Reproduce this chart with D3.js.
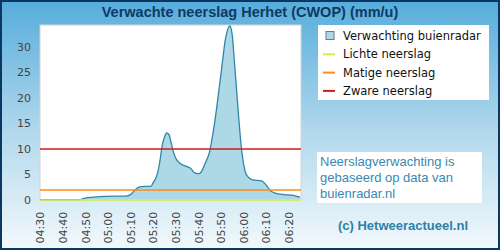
<!DOCTYPE html>
<html><head><meta charset="utf-8">
<script src="https://cdn.jsdelivr.net/npm/d3@7"></script>
<style>html,body{margin:0;padding:0;background:#fff;}svg{display:block;}</style>
</head><body>
<script>
// ---- data ----
const times = ["04:30","04:48","04:49","04:51","04:56","05:03","05:08","05:10","05:12","05:14","05:16","05:19","05:20","05:22","05:23","05:24","05:25","05:26","05:27","05:28","05:29","05:30","05:32","05:35","05:37","05:38","05:40","05:41","05:43","05:45","05:47","05:50","05:52","05:54","05:55","05:56","05:58","05:59","06:01","06:02","06:04","06:08","06:10","06:12","06:15","06:18","06:22","06:25"];
const values = [0,0,0.2,0.4,0.6,0.7,0.7,1.0,1.9,2.5,2.6,2.6,3.3,5.2,7.5,10.5,12.2,13.1,12.8,11.2,9.4,8.2,7.1,6.5,6.0,5.4,5.1,5.3,7.1,9.4,14.4,24.5,31.5,34.1,32.4,27,15.5,10.5,5.2,4.5,3.9,3.7,2.9,1.7,1.2,1.0,0.85,0.5];
const xTickLabels = ["04:30","04:40","04:50","05:00","05:10","05:20","05:30","05:40","05:50","06:00","06:10","06:20"];
const yTicks = [0,5,10,15,20,25,30];
const thresholds = [0,2,10];
const thresholdColors = ["#d2f04e","#ff8a1a","#c81e1e"];
const legendLabels = ["Verwachting buienradar","Lichte neerslag","Matige neerslag","Zware neerslag"];
const infoLines = ["Neerslagverwachting is","gebaseerd op data van","buienradar.nl"];
const title = "Verwachte neerslag Herhet (CWOP) (mm/u)";
const credit = "(c) Hetweeractueel.nl";

(function(){
const W = 500, H = 250;
const parse = s => { const [h,m] = s.split(":").map(Number); return h*60+m; };
const data = times.map((t,i)=>({t:parse(t), v:values[i]}));

const svg = d3.select("body").append("svg").attr("width",W).attr("height",H);
const defs = svg.append("defs");
const g = defs.append("linearGradient").attr("id","bg").attr("x1",0).attr("y1",0).attr("x2",0).attr("y2",1);
g.append("stop").attr("offset","0%").attr("stop-color","#56acdb");
g.append("stop").attr("offset","55%").attr("stop-color","#b5daee");
g.append("stop").attr("offset","100%").attr("stop-color","#f3f9fc");

svg.append("rect").attr("x",0).attr("y",0).attr("width",W).attr("height",H).attr("fill","url(#bg)");
svg.append("rect").attr("x",1).attr("y",1).attr("width",W-2).attr("height",H-2).attr("fill","none").attr("stroke","#0b3863").attr("stroke-width",2);

svg.append("text").attr("x",250).attr("y",17).attr("text-anchor","middle")
  .attr("font-family","Liberation Sans, Arial, sans-serif").attr("font-weight","bold").attr("font-size",14.5)
  .attr("fill","#0d3a63").text(title);

const pL = 40, pR = 300, pT = 25, pB = 199.7;
const x = d3.scaleLinear().domain([parse("04:30"), parse("06:25")]).range([pL, pR]);
const y = d3.scaleLinear().domain([0, 34.3]).range([pB, pT]);

svg.append("rect").attr("x",pL).attr("y",pT).attr("width",pR-pL+1).attr("height",pB-pT+0.5)
  .attr("fill","#fff").attr("stroke","#d4d4d4").attr("stroke-width",1);

const area = d3.area().x(d=>x(d.t)).y0(y(0)).y1(d=>y(d.v)).curve(d3.curveMonotoneX);
const line = d3.line().x(d=>x(d.t)).y(d=>y(d.v)).curve(d3.curveMonotoneX);
svg.append("path").datum(data).attr("d",area).attr("fill","#add8e6");
svg.append("path").datum(data).attr("d",line).attr("fill","none").attr("stroke","#2f86a8").attr("stroke-width",1.3);

thresholds.forEach((v,i)=>{
  const yy = Math.round(y(v));
  svg.append("line").attr("x1",pL).attr("x2",pR+1).attr("y1",yy).attr("y2",yy)
    .attr("stroke",thresholdColors[i]).attr("stroke-width",1.6);
});

const yAxis = d3.axisLeft(y).tickValues(yTicks).tickSize(0).tickPadding(0);
const ya = svg.append("g").attr("transform",`translate(31,0)`).call(yAxis);
ya.select(".domain").remove();
ya.selectAll("text").attr("font-family","DejaVu Sans, sans-serif").attr("font-size",11).attr("fill","#444");

const xAxis = d3.axisBottom(x).tickValues(xTickLabels.map(parse)).tickFormat((d,i)=>xTickLabels[i]).tickSize(0);
const xa = svg.append("g").attr("transform",`translate(0,${pB})`).call(xAxis);
xa.select(".domain").remove();
xa.selectAll("text").attr("font-family","DejaVu Sans, sans-serif").attr("font-size",11).attr("fill","#444")
  .attr("transform","rotate(-90)").attr("text-anchor","end").attr("x",-12).attr("y",0).attr("dy","0.35em");

const lg = svg.append("g");
lg.append("rect").attr("x",318).attr("y",25).attr("width",171).attr("height",75).attr("fill","#fff");
legendLabels.forEach((lab,i)=>{
  const cy = 36 + i*18.3;
  if(i===0){
    lg.append("rect").attr("x",326).attr("y",cy-4.5).attr("width",8).attr("height",8).attr("fill","#add8e6").attr("stroke","#777").attr("stroke-width",1);
  } else {
    lg.append("line").attr("x1",323).attr("x2",335).attr("y1",cy).attr("y2",cy).attr("stroke",thresholdColors[i-1]).attr("stroke-width",2);
  }
  lg.append("text").attr("x",343).attr("y",cy).attr("dy","0.35em").attr("font-family","DejaVu Sans, sans-serif")
    .attr("font-size",11.5).attr("fill","#111").text(lab);
});

svg.append("rect").attr("x",317).attr("y",152).attr("width",165).attr("height",51).attr("fill","#fff");
infoLines.forEach((t,i)=>{
  svg.append("text").attr("x",320).attr("y",166+i*16).attr("font-family","Liberation Sans, Arial, sans-serif")
    .attr("font-size",13).attr("fill","#3a88b0").text(t);
});
svg.append("text").attr("x",403).attr("y",230).attr("text-anchor","middle").attr("font-family","Liberation Sans, Arial, sans-serif")
  .attr("font-weight","bold").attr("font-size",13).attr("fill","#2f7fa8").text(credit);
})();
</script>
</body></html>
